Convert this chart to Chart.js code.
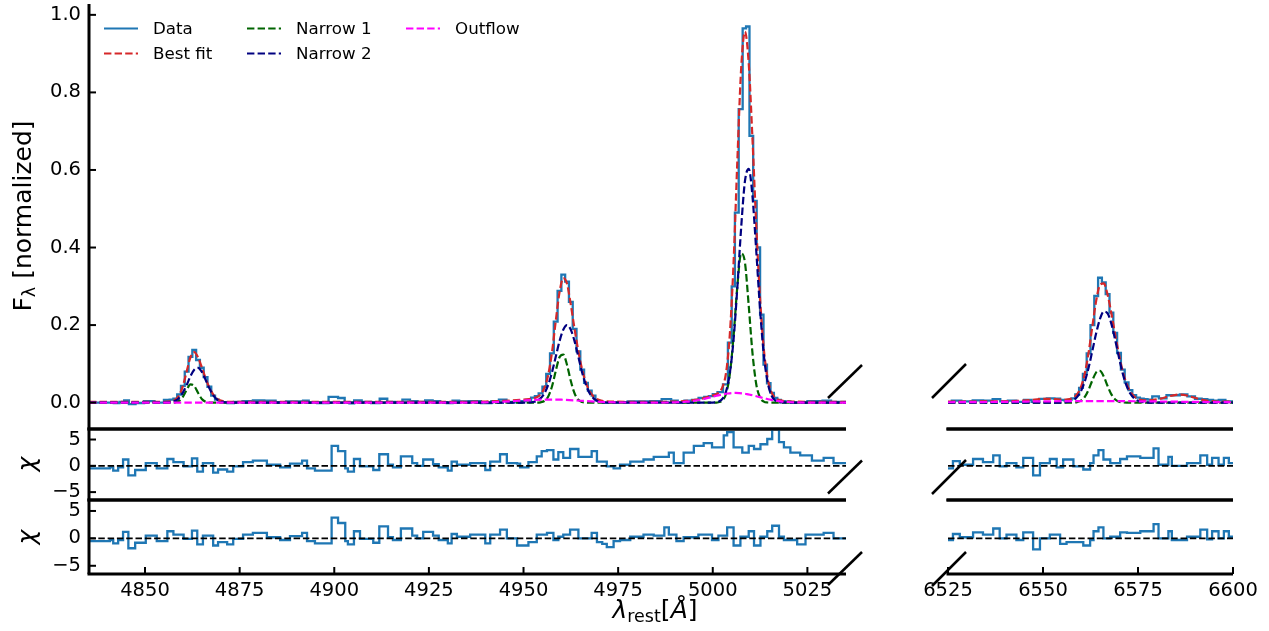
<!DOCTYPE html>
<html>
<head>
<meta charset="utf-8">
<script src="https://cdn.jsdelivr.net/npm/chart.js@4.4.1/dist/chart.umd.min.js"></script>
<style>
body { margin: 0; background: #fff; }
#wrap { position: relative; width: 1269px; height: 631px; font-family: 'DejaVu Sans', sans-serif; color: #000; }
canvas { position: absolute; left: 0; top: 0; }
.lab { position: absolute; font-size: 25px; white-space: nowrap; line-height: 1; }
.lab sub { font-size: 70%; vertical-align: -0.25em; }
</style>
</head>
<body>
<div id="wrap">
  <canvas id="mainL" width="1269" height="631"></canvas>
  <canvas id="mainR" width="1269" height="631"></canvas>
  <canvas id="res1L" width="1269" height="631"></canvas>
  <canvas id="res1R" width="1269" height="631"></canvas>
  <canvas id="res2L" width="1269" height="631"></canvas>
  <canvas id="res2R" width="1269" height="631"></canvas>
  <div class="lab" style="left:24px;top:216px;transform:translate(-50%,-50%) rotate(-90deg);">F<sub>λ</sub> [normalized]</div>
  <div class="lab" style="left:26px;top:464px;transform:translate(-50%,-50%) rotate(-90deg);"><i>χ</i></div>
  <div class="lab" style="left:26px;top:537px;transform:translate(-50%,-50%) rotate(-90deg);"><i>χ</i></div>
  <div class="lab" style="left:655px;top:611px;transform:translate(-50%,-50%);"><i>λ</i><sub>rest</sub>[<i>Å</i>]</div>
</div>
<script>
// axis ranges and ticks
let leftRange = [4835.2, 5035.2];
let rightRange = [6525, 6600];
let fluxRange = [-0.068, 1.028];
let chiRange = [-6.5, 7.0];
let fluxTicks = [0, 0.2, 0.4, 0.6, 0.8, 1.0];
let chiTicks = [-5, 0, 5];
let leftTicks = [4850, 4875, 4900, 4925, 4950, 4975, 5000, 5025];
let rightTicks = [6525, 6550, 6575, 6600];
let keyLabels = ['Data', 'Best fit', 'Narrow 1', 'Narrow 2', 'Outflow'];

// spectrum, left window (Hbeta + [OIII])
let dataLeftWave = [4835.2, 4837, 4839, 4841, 4842.5, 4844, 4845, 4846.5, 4848.5, 4851,
  4854, 4856, 4857, 4858, 4859, 4860, 4861, 4862, 4863, 4864,
  4865, 4866, 4867, 4868, 4869, 4870, 4871, 4872.5, 4874.5, 4877,
  4880, 4883, 4886, 4888.5, 4891, 4892.5, 4894, 4897, 4900, 4902,
  4903.5, 4904.5, 4906, 4908.5, 4911, 4913, 4915, 4917, 4919, 4921,
  4923, 4925, 4927, 4929, 4930.5, 4932, 4934, 4937, 4940.5, 4942.5,
  4944.5, 4946.5, 4948.5, 4950, 4951.5, 4952.5, 4953.5, 4954.5, 4955.5, 4956.5,
  4957.5, 4958.5, 4959.5, 4960.5, 4961.5, 4962.5, 4963.5, 4964.5, 4965.5, 4966.5,
  4967.5, 4968.5, 4969.5, 4970.5, 4971.5, 4973.5, 4976, 4979, 4982, 4985,
  4988, 4990, 4991.5, 4993.5, 4995.5, 4997, 4998.5, 4999.5, 5000.5, 5002,
  5003.4, 5004.6, 5005.4, 5006.3, 5007.4, 5008.4, 5009.2, 5010.2, 5011.15, 5012.05,
  5012.95, 5013.85, 5014.8, 5015.7, 5016.6, 5017.5, 5018.5, 5019.5, 5021.5, 5024,
  5026, 5028, 5030, 5032.5, 5035.2];
let dataLeftFlux = [0.000, 0.000, 0.000, 0.000, -0.001, 0.002, 0.006, -0.004, -0.001, 0.004,
  0.000, 0.007, 0.008, 0.010, 0.021, 0.043, 0.080, 0.118, 0.136, 0.110,
  0.090, 0.066, 0.041, 0.018, 0.008, 0.003, 0.001, -0.001, 0.002, 0.004,
  0.0055, 0.005, 0.001, 0.003, 0.003, 0.005, 0.000, -0.001, 0.015, 0.012,
  0.000, -0.002, 0.006, 0.002, -0.001, 0.010, 0.002, 0.001, 0.008, 0.004,
  0.002, 0.006, 0.004, 0.001, -0.001, 0.005, 0.003, 0.004, -0.001, 0.004,
  0.008, 0.002, 0.001, 0.004, 0.007, 0.013, 0.017, 0.024, 0.041, 0.074,
  0.127, 0.209, 0.288, 0.330, 0.312, 0.260, 0.190, 0.132, 0.085, 0.051,
  0.031, 0.018, 0.006, 0.002, 0.000, 0.001, 0.001, 0.003, 0.003, 0.004,
  0.009, 0.005, 0.001, 0.005, 0.007, 0.012, 0.015, 0.017, 0.022, 0.027,
  0.047, 0.155, 0.300, 0.490, 0.757, 0.965, 0.970, 0.688, 0.520, 0.400,
  0.227, 0.098, 0.050, 0.025, 0.012, 0.007, 0.004, 0.003, 0.000, 0.000,
  0.004, 0.004, 0.005, 0.002, 0.002];

let fitLeftWave = [4835.2, 4850, 4855, 4856, 4857, 4858, 4859, 4860, 4861, 4862,
  4863, 4864, 4865, 4866, 4867, 4868, 4869, 4870, 4871, 4872,
  4900, 4935, 4940, 4945, 4949.5, 4951.5, 4952.5, 4953.5, 4954.5, 4955.5,
  4956.5, 4957.5, 4958.5, 4959.5, 4960.5, 4961.5, 4962.5, 4963.5, 4964.5, 4965.5,
  4966.5, 4967.5, 4968.5, 4969.5, 4970.5, 4971.5, 4974.5, 4980, 4985, 4990,
  4993, 4995, 4997, 4998.5, 4999.5, 5000.5, 5001.5, 5002.5, 5003.5, 5004.5,
  5005.5, 5006.5, 5007.5, 5008.5, 5009.5, 5010.5, 5011.5, 5012.5, 5013.5, 5014.5,
  5015.5, 5016.5, 5017.5, 5018.5, 5019.5, 5021.5, 5024.5, 5035.2];
let fitLeftFlux = [0.002, 0.002, 0.0022, 0.0025, 0.0037, 0.0076, 0.0185, 0.0427, 0.080, 0.117,
  0.130, 0.117, 0.091, 0.063, 0.039, 0.0215, 0.0106, 0.0052, 0.003, 0.002,
  0.002, 0.0022, 0.0028, 0.0046, 0.0075, 0.0091, 0.0107, 0.014, 0.0216, 0.0378,
  0.0707, 0.128, 0.209, 0.284, 0.321, 0.306, 0.252, 0.189, 0.132, 0.085,
  0.0513, 0.0288, 0.0157, 0.0085, 0.0053, 0.0038, 0.0026, 0.0022, 0.0021, 0.0027,
  0.0044, 0.0067, 0.0101, 0.0146, 0.0172, 0.0202, 0.0254, 0.0386, 0.0765, 0.1752,
  0.362, 0.6256, 0.8616, 0.9566, 0.875, 0.6777, 0.454, 0.2675, 0.1369, 0.063,
  0.0268, 0.0123, 0.0068, 0.0047, 0.0036, 0.0027, 0.0022, 0.002];

let n1LeftWave = [4835.2, 4857, 4858, 4859, 4860, 4861, 4862, 4863, 4864, 4865, 4866, 4867, 4868,
  4953.5, 4954.5, 4955.5, 4956.5, 4957.5, 4958.5, 4959.5, 4960.5, 4961.5, 4962.5, 4963.5, 4964.5, 4965.5, 4966.5, 4967.5,
  5001, 5001.5, 5002.5, 5003.5, 5004.5, 5005.5, 5006.5, 5007.5, 5008.5, 5009.5, 5010.5, 5011.5, 5012.5, 5013.5, 5014.5, 5015.5,
  5035.2];
let n1LeftFlux = [0, 0.0001, 0.0008, 0.0043, 0.0149, 0.0329, 0.047, 0.043, 0.0253, 0.0095, 0.0023, 0.0003, 0,
  0, 0.0008, 0.0042, 0.0151, 0.041, 0.081, 0.117, 0.124, 0.097, 0.0556, 0.0236, 0.0072, 0.0016, 0.0002, 0,
  0, 0.0009, 0.0052, 0.0224, 0.073, 0.172, 0.301, 0.385, 0.3615, 0.250, 0.127, 0.0468, 0.0129, 0.0026, 0.0004, 0,
  0];

let n2LeftWave = [4835.2, 4855, 4856, 4857, 4858, 4859, 4860, 4861, 4862, 4863, 4864, 4865, 4866, 4867, 4868, 4869, 4870, 4871, 4872,
  4950.5, 4951.5, 4952.5, 4953.5, 4954.5, 4955.5, 4956.5, 4957.5, 4958.5, 4959.5, 4960.5, 4961.5, 4962.5, 4963.5, 4964.5, 4965.5, 4966.5, 4967.5, 4968.5, 4969.5, 4970.5, 4971.5, 4972.5,
  4999.5, 5000.5, 5001.5, 5002.5, 5003.5, 5004.5, 5005.5, 5006.5, 5007.5, 5008.5, 5009.5, 5010.5, 5011.5, 5012.5, 5013.5, 5014.5, 5015.5, 5016.5, 5017.5, 5018.5, 5019.5,
  5035.2];
let n2LeftFlux = [0, 0, 0.0005, 0.0016, 0.0048, 0.0122, 0.0258, 0.0454, 0.068, 0.085, 0.0897, 0.0794, 0.059, 0.037, 0.0195, 0.0086, 0.0032, 0.001, 0,
  0, 0.0005, 0.0016, 0.0044, 0.011, 0.0236, 0.0456, 0.0772, 0.1176, 0.158, 0.188, 0.2, 0.188, 0.158, 0.1176, 0.077, 0.0456, 0.0236, 0.011, 0.0044, 0.0016, 0.0005, 0,
  0, 0.0005, 0.0025, 0.0093, 0.0285, 0.0756, 0.163, 0.298, 0.451, 0.571, 0.603, 0.531, 0.390, 0.24, 0.122, 0.0525, 0.0186, 0.0056, 0.0014, 0.0003, 0,
  0];

let outLeftWave = [4835.2, 4935, 4940, 4945, 4950, 4955, 4957, 4960, 4965, 4970,
  4975, 4980, 4985, 4990, 4993, 4995, 4997, 4999, 5000, 5001,
  5002, 5003, 5004, 5005, 5006, 5007, 5008, 5009, 5010, 5011,
  5012, 5013, 5014, 5015, 5016, 5017, 5018, 5019, 5020, 5022, 5025, 5035.2];
let outLeftFlux = [0, 0.0002, 0.0008, 0.0026, 0.0055, 0.0078, 0.008, 0.0075, 0.0049, 0.0021,
  0.0006, 0.0002, 0.0002, 0.0007, 0.0024, 0.0047, 0.0081, 0.0126, 0.0152, 0.0177,
  0.02, 0.0221, 0.0236, 0.0246, 0.025, 0.0246, 0.0236, 0.0221, 0.02, 0.0177,
  0.0152, 0.0126, 0.0103, 0.0081, 0.0062, 0.0047, 0.0034, 0.0024, 0.0016, 0.0007, 0.0002, 0];

// spectrum, right window (Halpha + [NII])
let dataRightWave = [6525, 6527, 6530, 6533, 6535.5, 6538, 6539.5, 6542, 6544, 6546,
  6548, 6550, 6552, 6554, 6555, 6556, 6557, 6558, 6559, 6560,
  6561, 6562, 6563, 6564, 6565, 6566, 6567, 6568, 6569, 6570,
  6571, 6572, 6573, 6574, 6575, 6576, 6577, 6578, 6579.5, 6581.5,
  6583.5, 6585, 6587, 6589, 6591, 6592.5, 6594, 6595.5, 6597, 6599, 6600];
let dataRightFlux = [0.001, 0.005, 0.003, 0.006, 0.005, 0.009, 0.003, 0.005, 0.002, 0.007,
  0.002, 0.0095, 0.011, 0.010, 0.007, 0.006, 0.007, 0.011, 0.021, 0.038,
  0.074, 0.127, 0.200, 0.275, 0.322, 0.310, 0.280, 0.232, 0.180, 0.128,
  0.085, 0.052, 0.032, 0.019, 0.013, 0.010, 0.009, 0.008, 0.016, 0.011,
  0.019, 0.019, 0.021, 0.016, 0.010, 0.009, 0.007, 0.005, 0.007, 0.003, 0.003];

let fitRightWave = [6525, 6530, 6535, 6540, 6545, 6547, 6549, 6551, 6553, 6555,
  6556, 6557, 6558, 6559, 6560, 6561, 6562, 6563, 6564, 6565,
  6566, 6567, 6568, 6569, 6570, 6571, 6572, 6573, 6574, 6575,
  6576, 6577, 6579, 6581, 6583, 6585, 6586, 6587, 6589, 6591,
  6593, 6595, 6597, 6600];
let fitRightFlux = [0.0025, 0.0028, 0.0031, 0.0035, 0.0054, 0.007, 0.0089, 0.0099, 0.0093, 0.0081,
  0.0081, 0.0091, 0.0129, 0.0221, 0.0407, 0.0751, 0.1288, 0.1976, 0.263, 0.3036,
  0.3076, 0.2783, 0.23, 0.1751, 0.124, 0.0803, 0.0487, 0.0281, 0.016, 0.0096,
  0.0066, 0.006, 0.0069, 0.0105, 0.016, 0.0202, 0.0208, 0.02, 0.0153, 0.0094,
  0.0054, 0.0035, 0.0027, 0.0025];

let n1RightWave = [6525, 6557, 6558, 6559, 6560, 6561, 6562, 6563, 6564, 6565, 6566, 6567, 6568, 6569, 6570, 6571, 6572, 6600];
let n1RightFlux = [0, 0, 0.0003, 0.0014, 0.0052, 0.0149, 0.0333, 0.0578, 0.0781, 0.0821, 0.0672, 0.0428, 0.0213, 0.0082, 0.0025, 0.0006, 0, 0];
let n2RightWave = [6525, 6554, 6555, 6556, 6557, 6558, 6559, 6560, 6561, 6562, 6563, 6564, 6565, 6566,
  6567, 6568, 6569, 6570, 6571, 6572, 6573, 6574, 6575, 6576, 6577, 6578, 6579, 6600];
let n2RightFlux = [0, 0, 0.0003, 0.0009, 0.0026, 0.0065, 0.0149, 0.030, 0.0547, 0.090, 0.1343, 0.1794, 0.216, 0.2349,
  0.230, 0.2032, 0.1614, 0.1161, 0.0744, 0.0434, 0.0229, 0.0109, 0.0046, 0.0017, 0.0006, 0.0002, 0, 0];
let outRightWave = [6525, 6530, 6535, 6540, 6545, 6550, 6555, 6560, 6565, 6570, 6575, 6580, 6585, 6590, 6595, 6600];
let outRightFlux = [0.001, 0.0013, 0.0016, 0.002, 0.0027, 0.0033, 0.0037, 0.004, 0.004, 0.0039, 0.0035, 0.003, 0.0024, 0.0019, 0.0014, 0.001];

// residuals (bin start edges)
let resLeftEdges = [4835.2, 4840.7, 4841.6, 4842.9, 4844.2, 4845.6, 4847.4, 4850.2, 4853.1, 4855.9,
  4857.5, 4860.2, 4862.4, 4863.8, 4865.3, 4868.0, 4869.3, 4871.7, 4873.3, 4875.9,
  4878.5, 4882.2, 4885.7, 4888.3, 4891.5, 4892.8, 4894.9, 4899.3, 4901.0, 4902.9,
  4903.6, 4905.2, 4906.8, 4910.3, 4911.9, 4914.2, 4915.5, 4917.6, 4920.6, 4921.9,
  4923.5, 4926.1, 4927.6, 4930.0, 4931.0, 4932.4, 4935.9, 4939.9, 4941.2, 4943.8,
  4945.6, 4948.3, 4949.1, 4951.3, 4953.5, 4954.8, 4956.2, 4957.9, 4959.2, 4960.5,
  4962.3, 4964.5, 4968.0, 4969.4, 4970.8, 4972.0, 4973.8, 4975.5, 4978.2, 4981.7,
  4984.4, 4987.2, 4988.4, 4989.7, 4990.4, 4992.3, 4995.0, 4996.2, 4997.6, 4999.8,
  5001.5, 5002.9, 5003.8, 5005.5, 5007.3, 5007.8, 5009.5, 5010.9, 5012.6, 5014.4,
  5015.7, 5017.5, 5018.8, 5020.5, 5022.3, 5023.1, 5024.5, 5026.2, 5029.3, 5031.9];
let chi1Left = [-0.5, -0.3, -0.9, -0.3, 1.2, -1.8, -0.8, 0.5, -0.5, 1.3,
  0.7, -0.1, 1.4, -1.1, 0.5, -1.3, -0.7, -1.1, -0.1, 0.7,
  1.0, 0.2, -0.3, 0.4, 1.0, -0.5, -0.9, 3.8, 2.8, -0.5,
  -1.1, 1.3, -0.1, -0.8, 2.2, 0.2, -0.3, 1.8, 0.5, 0.0,
  1.2, 0.3, -0.3, -0.9, 0.8, 0.2, 0.5, -0.8, 0.8, 2.2,
  0.5, 0.4, -0.3, 0.7, 1.8, 2.8, 3.0, 1.2, 2.6, 1.5,
  3.2, 1.7, 2.8, 0.8, 0.8, -0.1, -0.5, 0.2, 0.8, 1.2,
  1.7, 1.7, 2.5, 0.5, 0.5, 2.5, 3.8, 3.8, 4.3, 3.5,
  3.5, 5.8, 6.4, 3.5, 3.5, 2.5, 3.8, 3.2, 4.1, 5.1,
  7.5, 4.5, 3.5, 2.5, 2.5, 2.0, 2.0, 1.0, 1.5, 0.5];
let chi2Left = [-0.5, -0.3, -0.9, -0.3, 1.2, -1.8, -0.8, 0.5, -0.5, 1.3,
  0.7, -0.1, 1.4, -1.1, 0.5, -1.3, -0.7, -1.1, -0.1, 0.7,
  1.0, 0.2, -0.3, 0.4, 1.0, -0.5, -0.9, 3.8, 2.8, -0.5,
  -1.1, 1.3, -0.1, -0.8, 2.2, 0.2, -0.3, 1.8, 0.5, 0.0,
  1.2, 0.5, -0.3, -0.9, 0.8, 0.3, 0.7, -0.9, 0.7, 1.6,
  0.0, -1.3, -1.3, -0.7, 0.7, 0.7, 1.0, -0.3, 0.3, 0.7,
  1.6, 0.0, 1.0, -0.7, -1.0, -1.6, -0.5, -0.3, 0.3, 0.7,
  0.5, 2.0, 0.7, 0.7, -0.5, 0.2, 0.2, 0.7, 0.7, -0.3,
  0.5, 0.5, 2.0, -1.3, 0.3, 0.3, 1.3, -1.3, 0.3, 1.3,
  2.3, 0.3, -0.3, -0.3, -1.1, -1.1, 0.7, 0.7, 1.0, 0.0];
let resRightEdges = [6525.0, 6526.3, 6528.1, 6531.6, 6534.2, 6536.9, 6538.6, 6540.4, 6543.0, 6544.8,
  6547.4, 6549.2, 6551.8, 6553.6, 6554.5, 6555.3, 6556.2, 6558.0, 6560.6, 6562.4,
  6563.3, 6564.6, 6565.9, 6567.7, 6570.3, 6572.1, 6575.6, 6579.1, 6580.4, 6583.0,
  6583.9, 6587.9, 6591.4, 6593.2, 6594.5, 6596.2, 6597.6, 6598.9];
let chi1Right = [-0.5, 0.9, 0.2, 1.3, 0.7, 2.0, -0.1, 0.5, -0.3, 1.5,
  -1.8, 0.5, 1.3, -0.3, -0.3, 1.2, 1.2, -0.1, -0.7, 0.5,
  2.0, 3.0, 1.2, 0.5, 1.3, 1.8, 1.5, 3.3, 0.2, 1.7,
  0.0, 0.5, 2.0, 0.2, 1.5, 0.2, 1.5, 0.5];
let chi2Right = [-0.3, 0.8, 0.2, 1.1, 0.7, 1.8, 0.0, 0.7, -0.3, 1.1,
  -2.0, 0.0, 0.7, 0.7, -1.0, -1.0, -0.7, -0.7, -1.3, -0.3,
  1.3, 2.0, 0.0, 0.3, 1.1, 1.0, 1.3, 2.6, 0.0, 1.3,
  -0.3, 0.3, 1.6, -0.2, 1.3, 0.0, 1.3, 0.3];

const DASH = [7.4, 3.2];
const toPts = (xs, ys) => xs.map((x, i) => ({ x: x, y: ys[i] }));
const stepPts = (edges, vals, end) => {
  let p = toPts(edges, vals);
  p.push({ x: end, y: vals[vals.length - 1] });
  return p;
};

Chart.defaults.font.family = "'DejaVu Sans', sans-serif";
Chart.defaults.font.size = 19.5;
Chart.defaults.color = '#000';

// spines, inward ticks and the broken-axis marks
const framePlugin = {
  id: 'frame',
  afterDatasetsDraw(chart, args, o) {
    const ctx = chart.ctx, a = chart.chartArea;
    const seg = (x1, y1, x2, y2) => { ctx.beginPath(); ctx.moveTo(x1, y1); ctx.lineTo(x2, y2); ctx.stroke(); };
    ctx.save();
    ctx.strokeStyle = '#000';
    ctx.lineWidth = 3;
    (o.spines || []).forEach(s => {
      if (s == 'left') seg(a.left, a.top, a.left, a.bottom);
      if (s == 'top') seg(a.left - 1.5, a.top, a.right, a.top);
      if (s == 'bottom') seg(a.left - 1.5, a.bottom, a.right, a.bottom);
    });
    ctx.lineWidth = 2;
    if (o.yTicks) {
      chart.scales.y.ticks.forEach(t => {
        let py = chart.scales.y.getPixelForValue(t.value);
        seg(a.left, py, a.left + 7, py);
      });
    }
    if (o.xTicks) {
      chart.scales.x.ticks.forEach(t => {
        let px = chart.scales.x.getPixelForValue(t.value);
        seg(px, a.bottom, px, a.bottom - 7);
      });
    }
    if (o.brk) {
      ctx.lineWidth = 2.5;
      let yb = a.bottom + o.brk.dy;
      if (o.brk.side == 'right') seg(a.right - 18, yb, a.right + 16, yb - 33);
      else seg(a.left - 16, yb, a.left + 18, yb - 34);
    }
    ctx.restore();
  }
};

// legend laid out in three columns, filled column by column
const keyPlugin = {
  id: 'key',
  afterDraw(chart, args, o) {
    const ctx = chart.ctx;
    ctx.save();
    ctx.font = "16.7px 'DejaVu Sans', sans-serif";
    ctx.textBaseline = 'middle';
    ctx.fillStyle = '#000';
    keyLabels.forEach((lab, i) => {
      let ds = chart.data.datasets.find(d => d.label == lab);
      let x = o.cols[Math.floor(i / 2)], y = o.rows[i % 2];
      ctx.strokeStyle = ds.borderColor;
      ctx.lineWidth = 2.2;
      ctx.setLineDash(ds.borderDash || []);
      ctx.beginPath();
      ctx.moveTo(x, y);
      ctx.lineTo(x + 34, y);
      ctx.stroke();
      ctx.setLineDash([]);
      ctx.fillText(lab, x + 49, y + 1);
    });
    ctx.restore();
  }
};

function mainSets(w, f, fw, ff, aw, af, bw, bf, ow, of) {
  return [
    { label: 'Data', data: toPts(w, f), borderColor: '#1f77b4', borderWidth: 2.3, stepped: 'middle', order: 5 },
    { label: 'Best fit', data: toPts(fw, ff), borderColor: '#d62728', borderDash: DASH, cubicInterpolationMode: 'monotone', order: 4 },
    { label: 'Narrow 1', data: toPts(aw, af), borderColor: '#006400', borderDash: DASH, cubicInterpolationMode: 'monotone', order: 3 },
    { label: 'Narrow 2', data: toPts(bw, bf), borderColor: '#000080', borderDash: DASH, cubicInterpolationMode: 'monotone', order: 2 },
    { label: 'Outflow', data: toPts(ow, of), borderColor: '#ff00ff', borderDash: DASH, cubicInterpolationMode: 'monotone', order: 1 }
  ];
}

function resSets(edges, chi, range) {
  return [
    { label: 'chi', data: stepPts(edges, chi, range[1]), borderColor: '#1f77b4', borderWidth: 2.3, stepped: 'before', order: 2 },
    { label: 'zero', data: toPts(range, [0, 0]), borderColor: '#000', borderWidth: 1.8, borderDash: [6.5, 2.8], order: 1 }
  ];
}

function panel(id, o) {
  return new Chart(document.getElementById(id), {
    type: 'line',
    data: { datasets: o.sets },
    options: {
      responsive: false,
      animation: false,
      devicePixelRatio: 1,
      layout: { padding: o.pad },
      elements: { point: { radius: 0 }, line: { borderWidth: 2.2, fill: false, tension: 0 } },
      plugins: { legend: { display: false }, tooltip: { enabled: false }, frame: o.frame, key: o.key || false },
      scales: {
        x: {
          type: 'linear', min: o.xr[0], max: o.xr[1], display: !!o.xt,
          grid: { display: false, drawTicks: false }, border: { display: false },
          ticks: { padding: 5, autoSkip: false, maxRotation: 0, callback: v => String(v) },
          afterBuildTicks: s => { if (o.xt) s.ticks = o.xt.map(v => ({ value: v })); },
          afterFit: s => { if (o.xt) { s.height = 57; s.paddingLeft = 0; s.paddingRight = 0; } }
        },
        y: {
          type: 'linear', min: o.yr[0], max: o.yr[1], display: !!o.yt,
          grid: { display: false, drawTicks: false }, border: { display: false },
          ticks: { padding: 8, callback: o.fmt },
          afterBuildTicks: s => { if (o.yt) s.ticks = o.yt.map(v => ({ value: v })); },
          afterFit: s => { if (o.yt) { s.width = 89; s.paddingTop = 0; s.paddingBottom = 0; } }
        }
      }
    },
    plugins: [framePlugin, keyPlugin]
  });
}

const fluxFmt = v => v.toFixed(1);
const chiFmt = v => (v < 0 ? '\u2212' + Math.abs(v) : String(v));

panel('mainL', {
  sets: mainSets(dataLeftWave, dataLeftFlux, fitLeftWave, fitLeftFlux, n1LeftWave, n1LeftFlux, n2LeftWave, n2LeftFlux, outLeftWave, outLeftFlux),
  pad: { left: 0, right: 423, top: 4, bottom: 202 },
  xr: leftRange, yr: fluxRange, yt: fluxTicks, fmt: fluxFmt,
  frame: { spines: ['left', 'bottom'], yTicks: true, brk: { side: 'right', dy: -31 } },
  key: { cols: [104, 247, 406], rows: [28.5, 53.5] }
});
panel('mainR', {
  sets: mainSets(dataRightWave, dataRightFlux, fitRightWave, fitRightFlux, n1RightWave, n1RightFlux, n2RightWave, n2RightFlux, outRightWave, outRightFlux),
  pad: { left: 948, right: 36, top: 4, bottom: 202 },
  xr: rightRange, yr: fluxRange,
  frame: { spines: ['bottom'], brk: { side: 'left', dy: -31 } }
});
panel('res1L', {
  sets: resSets(resLeftEdges, chi1Left, leftRange),
  pad: { left: 0, right: 423, top: 429, bottom: 131 },
  xr: leftRange, yr: chiRange, yt: chiTicks, fmt: chiFmt,
  frame: { spines: ['left', 'top', 'bottom'], yTicks: true, brk: { side: 'right', dy: -6.5 } }
});
panel('res1R', {
  sets: resSets(resRightEdges, chi1Right, rightRange),
  pad: { left: 948, right: 36, top: 429, bottom: 131 },
  xr: rightRange, yr: chiRange,
  frame: { spines: ['top', 'bottom'], brk: { side: 'left', dy: -6 } }
});
panel('res2L', {
  sets: resSets(resLeftEdges, chi2Left, leftRange),
  pad: { left: 0, right: 423, top: 500, bottom: 0 },
  xr: leftRange, yr: chiRange, yt: chiTicks, xt: leftTicks, fmt: chiFmt,
  frame: { spines: ['left', 'top', 'bottom'], yTicks: true, xTicks: true, brk: { side: 'right', dy: 11 } }
});
panel('res2R', {
  sets: resSets(resRightEdges, chi2Right, rightRange),
  pad: { left: 948, right: 36, top: 500, bottom: 0 },
  xr: rightRange, yr: chiRange, xt: rightTicks,
  frame: { spines: ['top', 'bottom'], xTicks: true, brk: { side: 'left', dy: 12 } }
});
</script>
</body>
</html>
